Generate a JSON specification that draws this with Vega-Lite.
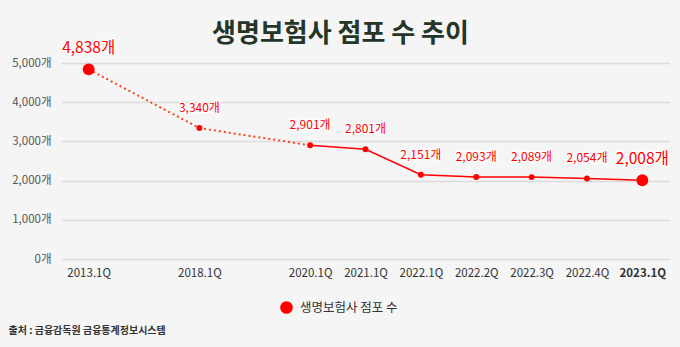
{
  "$schema": "https://vega.github.io/schema/vega-lite/v6.json",
  "width": 609,
  "height": 196,
  "autosize": "none",
  "padding": {"left": 61, "top": 63, "right": 10, "bottom": 88},
  "background": "#f4f5f4",
  "config": {"font": "Noto Sans CJK KR", "view": {"stroke": null}},
  "title": {"text": "생명보험사 점포 수 추이", "fontSize": 26, "fontWeight": "bold", "color": "#253528", "anchor": "middle", "dx": -25, "offset": 0, "dy": 6},
  "data": {"values": [
    {"q": "2013.1Q", "n": 4838, "label": "4,838개"},
    {"q": "2018.1Q", "n": 3340, "label": "3,340개"},
    {"q": "2020.1Q", "n": 2901, "label": "2,901개"},
    {"q": "2021.1Q", "n": 2801, "label": "2,801개"},
    {"q": "2022.1Q", "n": 2151, "label": "2,151개"},
    {"q": "2022.2Q", "n": 2093, "label": "2,093개"},
    {"q": "2022.3Q", "n": 2089, "label": "2,089개"},
    {"q": "2022.4Q", "n": 2054, "label": "2,054개"},
    {"q": "2023.1Q", "n": 2008, "label": "2,008개"}
  ]},
  "encoding": {
    "x": {"field": "q", "type": "ordinal",
      "scale": {"type": "point", "padding": 0.5, "domain": ["2013.1Q", "_a", "2018.1Q", "_b", "2020.1Q", "2021.1Q", "2022.1Q", "2022.2Q", "2022.3Q", "2022.4Q", "2023.1Q"]},
      "axis": {"title": "출처 : 금융감독원 금융통계정보시스템", "titleAnchor": "start", "titleAlign": "left", "titleX": -53, "titleY": 74, "titleBaseline": "alphabetic", "titleFontSize": 10, "titleFontWeight": "bold", "titleColor": "#333",
        "labelExpr": "indexof(datum.value, '_') >= 0 ? '' : datum.value", "labelAngle": 0, "labelFontSize": 11.5, "labelColor": "#333", "labelPadding": 8,
        "labelFontWeight": {"condition": {"test": "datum.value == '2023.1Q'", "value": "bold"}, "value": "normal"},
        "ticks": false, "domain": false, "grid": false}},
    "y": {"field": "n", "type": "quantitative", "scale": {"domain": [0, 5000]},
      "axis": {"title": null, "values": [0, 1000, 2000, 3000, 4000, 5000], "labelExpr": "format(datum.value, ',') + '개'", "labelFontSize": 11.5, "labelColor": "#555", "labelPadding": 10, "ticks": false, "domain": false, "gridColor": "#dcdcdc", "gridWidth": 1.3}}
  },
  "layer": [
    {"transform": [{"filter": "datum.q == '2013.1Q' || datum.q == '2018.1Q' || datum.q == '2020.1Q'"}],
     "mark": {"type": "line", "color": "#ff3d20", "strokeWidth": 2, "strokeDash": [2, 3]}},
    {"transform": [{"filter": "datum.q != '2013.1Q' && datum.q != '2018.1Q'"}],
     "mark": {"type": "line", "color": "#ff0000", "strokeWidth": 1.5}},
    {"mark": {"type": "circle", "opacity": 1},
     "encoding": {
       "color": {"datum": "생명보험사 점포 수", "scale": {"range": ["#ff0000"]},
         "legend": {"title": null, "orient": "none", "legendX": 218, "legendY": 237, "symbolType": "circle", "symbolSize": 160, "symbolOpacity": 1, "labelFontSize": 12.5, "labelColor": "#333", "labelOffset": 6}},
       "size": {"condition": {"test": "datum.q == '2013.1Q' || datum.q == '2023.1Q'", "value": 140}, "value": 35}}},
    {"mark": {"type": "text", "dy": -16, "baseline": "alphabetic", "color": "white", "stroke": "white", "strokeWidth": 3, "strokeOpacity": 0.9},
     "encoding": {"text": {"field": "label"},
       "size": {"condition": {"test": "datum.q == '2013.1Q' || datum.q == '2023.1Q'", "value": 15.5}, "value": 12}}},
    {"mark": {"type": "text", "dy": -16, "baseline": "alphabetic", "color": "#ff0000"},
     "encoding": {"text": {"field": "label"},
       "size": {"condition": {"test": "datum.q == '2013.1Q' || datum.q == '2023.1Q'", "value": 15.5}, "value": 12}}}
  ]
}
